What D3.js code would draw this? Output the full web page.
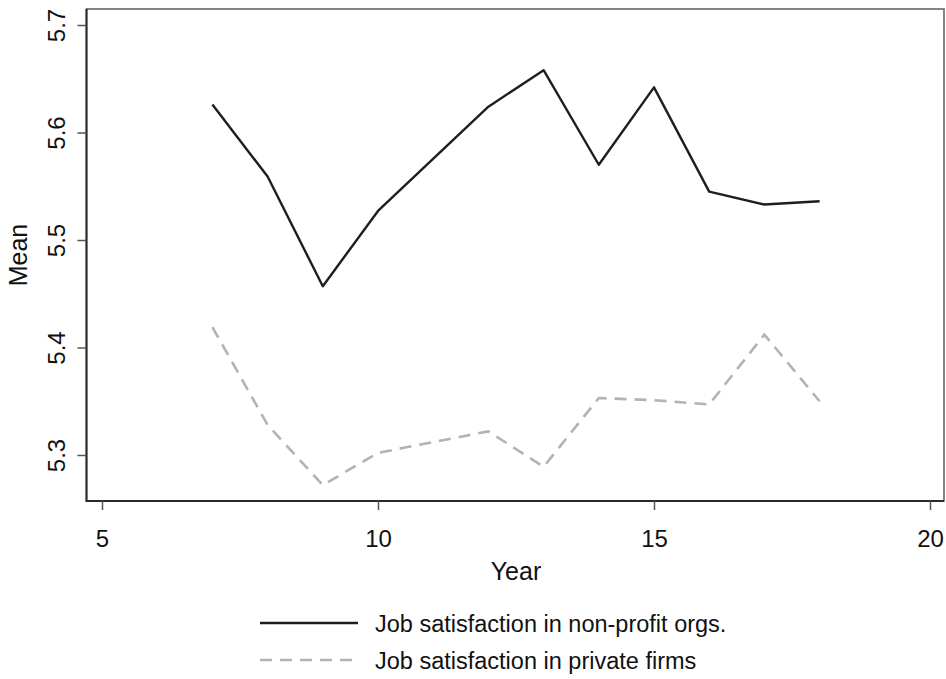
<!DOCTYPE html>
<html>
<head>
<meta charset="utf-8">
<script src="https://cdn.jsdelivr.net/npm/d3@7"></script>
<style>
  body { margin: 0; background: #fff; }
  text { font-family: "Liberation Sans", Arial, Helvetica, sans-serif; fill: #111; }
</style>
</head>
<body>
<div id="chart"></div>
<script>
// data
const years = [7, 8, 9, 10, 12, 13, 14, 15, 16, 17, 18];
const nonProfit = [5.626, 5.559, 5.457, 5.527, 5.624, 5.658, 5.570, 5.642, 5.545, 5.533, 5.536];
const privateFirms = [5.419, 5.328, 5.272, 5.302, 5.322, 5.289, 5.353, 5.351, 5.347, 5.412, 5.350];
const xTicks = [5, 10, 15, 20];
const yTicks = [5.3, 5.4, 5.5, 5.6, 5.7];
const seriesNames = ["Job satisfaction in non-profit orgs.", "Job satisfaction in private firms"];

const W = 946, H = 679;
const plot = { left: 86.5, right: 944, top: 9, bottom: 501 };

const svg = d3.select("#chart").append("svg")
  .attr("width", W).attr("height", H);

const x = d3.scaleLinear().domain([5, 20]).range([102, 930]);
const y = d3.scaleLinear().domain([5.3, 5.7]).range([455, 25]);

// frame: top/right lighter, left/bottom axis lines darker
svg.append("rect")
  .attr("x", plot.left).attr("y", plot.top)
  .attr("width", plot.right - plot.left).attr("height", plot.bottom - plot.top)
  .attr("fill", "none").attr("stroke", "#666").attr("stroke-width", 1.6);
svg.append("path")
  .attr("d", `M${plot.left},${plot.top}V${plot.bottom}H${plot.right}`)
  .attr("fill", "none").attr("stroke", "#2a2a2a").attr("stroke-width", 2);

// axes
const xAxis = svg.append("g")
  .attr("transform", `translate(0,${plot.bottom})`)
  .call(d3.axisBottom(x).tickValues(xTicks).tickSize(9).tickPadding(20).tickFormat(d3.format("d")));
xAxis.select(".domain").remove();
xAxis.selectAll("line").attr("stroke", "#555").attr("stroke-width", 1.5);
xAxis.selectAll("text").attr("font-size", 24).attr("fill", "#111");

const yAxis = svg.append("g")
  .attr("transform", `translate(${plot.left},0)`)
  .call(d3.axisLeft(y).tickValues(yTicks).tickSize(9).tickFormat(d3.format(".1f")));
yAxis.select(".domain").remove();
yAxis.selectAll("line").attr("stroke", "#555").attr("stroke-width", 1.5);
yAxis.selectAll("text")
  .attr("font-size", 24).attr("fill", "#111")
  .attr("text-anchor", "middle")
  .attr("x", 0).attr("dy", 0)
  .attr("transform", "translate(-22,0) rotate(-90)");

// axis titles
svg.append("text")
  .attr("x", (102 + 930) / 2).attr("y", 580)
  .attr("text-anchor", "middle").attr("font-size", 25)
  .text("Year");
svg.append("text")
  .attr("transform", `translate(27,${(plot.top + plot.bottom) / 2}) rotate(-90)`)
  .attr("text-anchor", "middle").attr("font-size", 25)
  .text("Mean");

// lines
const line = d3.line().x(d => x(d[0])).y(d => y(d[1]));

svg.append("path")
  .datum(years.map((yr, i) => [yr, privateFirms[i]]))
  .attr("d", line)
  .attr("fill", "none").attr("stroke", "#b3b3b3").attr("stroke-width", 2.6)
  .attr("stroke-dasharray", "12,8");

svg.append("path")
  .datum(years.map((yr, i) => [yr, nonProfit[i]]))
  .attr("d", line)
  .attr("fill", "none").attr("stroke", "#1e1e1e").attr("stroke-width", 2.4)
  .attr("stroke-linejoin", "round");

// legend
const legend = svg.append("g");
const legendRows = [
  { name: seriesNames[0], stroke: "#1e1e1e", dash: null, width: 2.4, y: 623 },
  { name: seriesNames[1], stroke: "#b3b3b3", dash: "12,8", width: 2.6, y: 660 }
];
legendRows.forEach(r => {
  legend.append("line")
    .attr("x1", 260).attr("x2", 358).attr("y1", r.y).attr("y2", r.y)
    .attr("stroke", r.stroke).attr("stroke-width", r.width)
    .attr("stroke-dasharray", r.dash);
  legend.append("text")
    .attr("x", 375).attr("y", r.y + 9)
    .attr("font-size", 23.5)
    .text(r.name);
});
</script>
</body>
</html>
